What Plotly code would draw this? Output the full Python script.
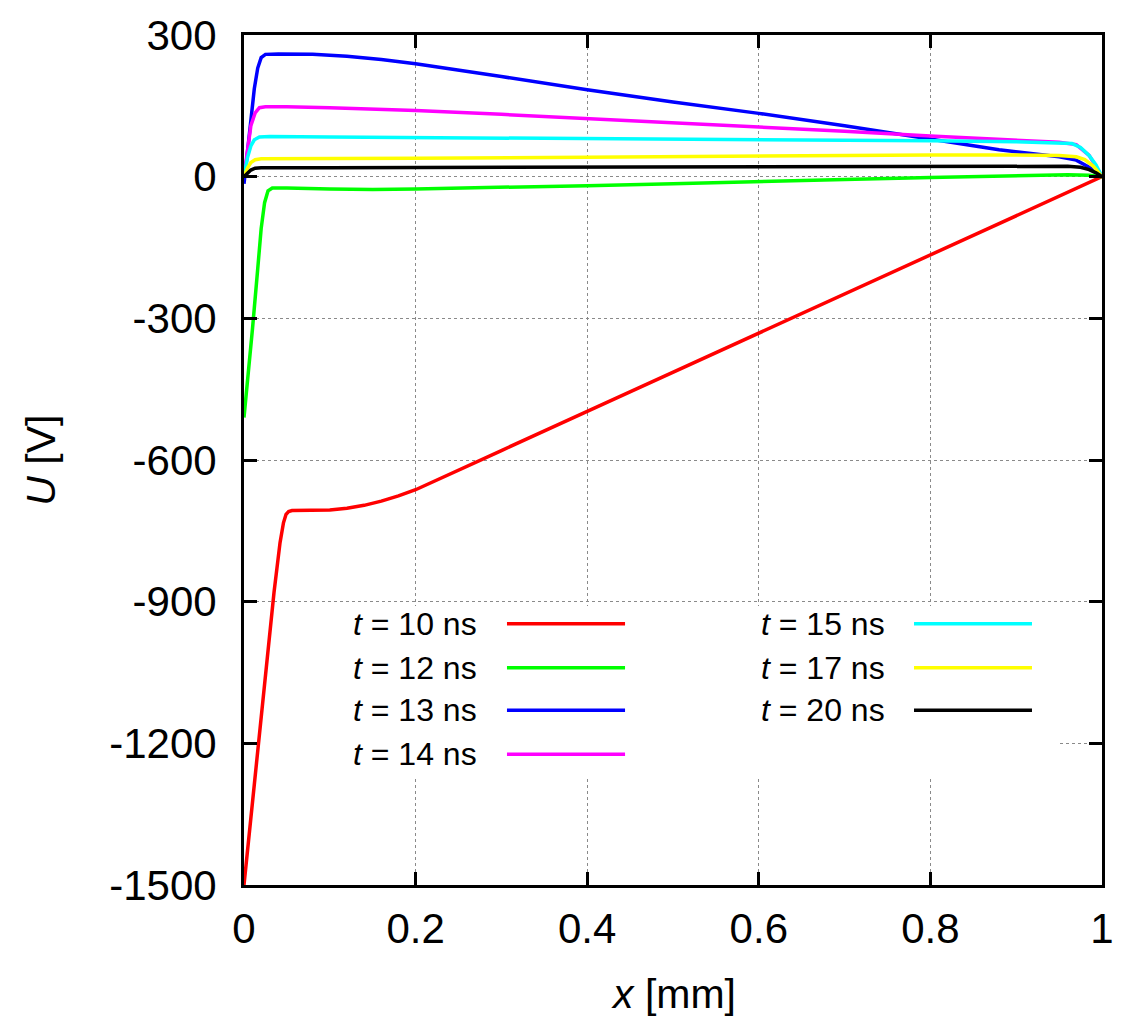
import plotly.graph_objects as go

# ---- data ----
x_10 = [0, 0.011, 0.022, 0.035, 0.042, 0.046, 0.049, 0.052, 0.056, 0.065, 0.08, 0.1, 0.12, 0.14, 0.16, 0.18, 0.2, 0.216, 0.3, 0.4, 0.5, 0.6, 0.7, 0.8, 0.9, 1.0]
u_10 = [-1500, -1305, -1113, -880, -775, -733, -715, -709, -707, -707, -707, -706, -702, -696, -687, -676, -663, -650, -580, -497, -414, -331, -248, -166, -83, 0]

x_12 = [0, 0.004, 0.01, 0.016, 0.02, 0.024, 0.028, 0.033, 0.05, 0.1, 0.15, 0.2, 0.3, 0.4, 0.5, 0.6, 0.7, 0.8, 0.9, 0.96, 0.985, 1.0]
u_12 = [-510, -440, -320, -195, -110, -55, -30, -24, -24, -26, -27, -26, -23, -19, -15, -10, -6, -2, 2, 4, 3, 0]

x_13 = [0, 0.004, 0.008, 0.012, 0.016, 0.02, 0.025, 0.04, 0.08, 0.12, 0.16, 0.2, 0.3, 0.4, 0.5, 0.6, 0.7, 0.77, 0.88, 0.95, 0.97, 0.985, 1.0]
u_13 = [-15, 50, 120, 186, 230, 252, 259, 260, 259, 255, 248, 239, 212, 184, 158, 134, 108, 88, 57, 42, 35, 20, 0]

x_14 = [0, 0.004, 0.008, 0.013, 0.018, 0.025, 0.05, 0.1, 0.2, 0.3, 0.4, 0.5, 0.6, 0.7, 0.8, 0.9, 0.95, 0.97, 0.985, 1.0]
u_14 = [0, 60, 108, 135, 146, 148, 148, 146, 140, 132, 123, 115, 106, 96, 86, 77, 73, 68, 45, 0]

x_15 = [0, 0.004, 0.008, 0.012, 0.018, 0.03, 0.1, 0.2, 0.3, 0.4, 0.5, 0.6, 0.7, 0.8, 0.9, 0.95, 0.965, 0.975, 0.985, 0.993, 1.0]
u_15 = [0, 40, 65, 78, 84, 85, 84, 83, 82, 81, 80, 79, 77, 76, 74, 72, 70, 62, 45, 25, 0]

x_17 = [0, 0.004, 0.008, 0.013, 0.02, 0.05, 0.2, 0.4, 0.6, 0.8, 0.9, 0.95, 0.97, 0.98, 0.99, 1.0]
u_17 = [0, 18, 30, 36, 38, 38, 39, 41, 44, 46, 46, 45, 42, 36, 22, 0]

x_20 = [0, 0.004, 0.008, 0.013, 0.02, 0.1, 0.3, 0.5, 0.7, 0.9, 0.96, 0.975, 0.985, 0.993, 1.0]
u_20 = [0, 8, 14, 18, 19, 19, 20, 21, 22, 22, 22, 20, 15, 8, 0]

series_names = ["t = 10 ns", "t = 12 ns", "t = 13 ns", "t = 14 ns", "t = 15 ns", "t = 17 ns", "t = 20 ns"]
series_x = [x_10, x_12, x_13, x_14, x_15, x_17, x_20]
series_u = [u_10, u_12, u_13, u_14, u_15, u_17, u_20]
colors = ["#ff0000", "#00ff00", "#0000ff", "#ff00ff", "#00ffff", "#ffff00", "#000000"]

x_ticks = [0, 0.2, 0.4, 0.6, 0.8, 1]
x_tick_labels = ["0", "0.2", "0.4", "0.6", "0.8", "1"]
y_ticks = [300, 0, -300, -600, -900, -1200, -1500]
y_tick_labels = ["300", "0", "-300", "-600", "-900", "-1200", "-1500"]

FONT = "Liberation Sans, Arial, Helvetica, sans-serif"

fig = go.Figure()
for name, xs, us, c in zip(series_names, series_x, series_u, colors):
    fig.add_trace(go.Scatter(x=xs, y=us, mode="lines", name=name,
                             line=dict(color=c, width=3.5), showlegend=False))

# ---- manual legend (text left, sample line right, opaque box) ----
shapes = [dict(type="rect", xref="x", yref="y", x0=0.008, x1=0.949, y0=-1273, y1=-909,
               fillcolor="white", line=dict(width=0), layer="between")]
annotations = []
col_text_x = [0.274, 0.749]
col_line_x = [(0.3065, 0.4441), (0.7809, 0.9184)]
row_y = [-947, -1040, -1130, -1223]
positions = [(0, 0), (0, 1), (0, 2), (0, 3), (1, 0), (1, 1), (1, 2)]
for (col, row), name, c in zip(positions, series_names, colors):
    label = name.replace("t ", "<i>t</i> ", 1)
    annotations.append(dict(x=col_text_x[col], y=row_y[row], xref="x", yref="y",
                            text=label, showarrow=False, xanchor="right", yanchor="middle",
                            font=dict(family=FONT, size=32, color="black")))
    shapes.append(dict(type="line", xref="x", yref="y",
                       x0=col_line_x[col][0], x1=col_line_x[col][1],
                       y0=row_y[row], y1=row_y[row],
                       line=dict(color=c, width=3.5), layer="above"))

# axis titles
annotations.append(dict(x=0.5, y=-0.128, xref="paper", yref="paper", text="<i>x</i> [mm]",
                        showarrow=False, xanchor="center", yanchor="middle",
                        font=dict(family=FONT, size=41, color="black")))
annotations.append(dict(x=-0.237, y=0.5, xref="paper", yref="paper", text="<i>U</i> [V]",
                        showarrow=False, xanchor="center", yanchor="middle", textangle=-90,
                        font=dict(family=FONT, size=41, color="black")))

axis_common = dict(showline=True, linewidth=3, linecolor="black", mirror="ticks",
                   ticks="inside", ticklen=13, tickwidth=3, tickcolor="black",
                   showgrid=True, gridcolor="#8a8a8a", gridwidth=1, griddash="dot",
                   zeroline=False, tickfont=dict(family=FONT, size=42, color="black"))

fig.update_xaxes(range=[0, 1], tickvals=x_ticks, ticktext=x_tick_labels,
                 ticklabelstandoff=5, **axis_common)
fig.update_yaxes(range=[-1500, 300], tickvals=y_ticks, ticktext=y_tick_labels,
                 ticklabelstandoff=16, **axis_common)

fig.update_layout(width=1128, height=1032, margin=dict(l=244, r=26, t=30, b=147),
                  paper_bgcolor="white", plot_bgcolor="white",
                  shapes=shapes, annotations=annotations, showlegend=False,
                  font=dict(family=FONT, color="black"))

fig.write_html("out.html")
